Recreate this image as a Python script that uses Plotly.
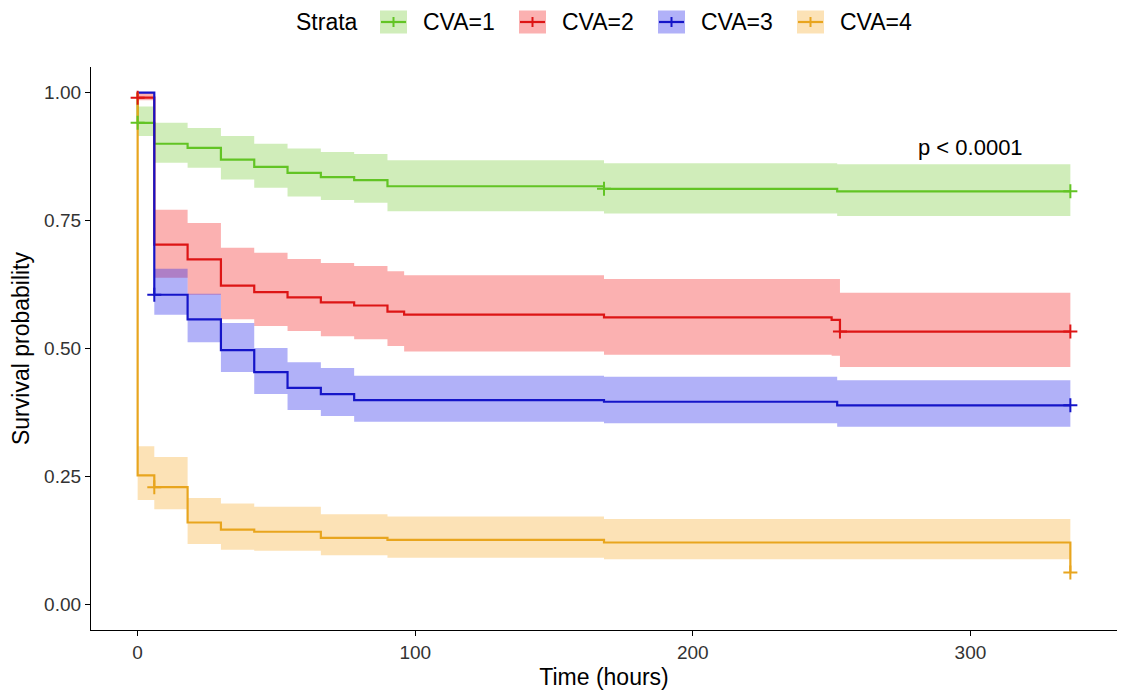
import plotly.graph_objects as go

# ---------------- data ----------------
strata = ["CVA=1", "CVA=2", "CVA=3", "CVA=4"]

time_cva1 = [0, 0, 6, 18, 30, 42, 54, 66, 78, 90, 168, 252, 336]
surv_cva1 = [1.0, 0.941, 0.900, 0.892, 0.869, 0.855, 0.843, 0.835, 0.829, 0.817, 0.812, 0.807, 0.807]
upper_cva1 = [1.0, 0.973, 0.941, 0.931, 0.915, 0.900, 0.891, 0.884, 0.880, 0.868, 0.862, 0.860, 0.860]
lower_cva1 = [1.0, 0.915, 0.863, 0.853, 0.830, 0.814, 0.797, 0.790, 0.785, 0.768, 0.764, 0.759, 0.759]
censor_t_cva1 = [0, 168, 336]
censor_s_cva1 = [0.941, 0.812, 0.807]

time_cva2 = [0, 0, 6, 18, 30, 42, 54, 66, 78, 90, 96, 168, 250, 253, 336]
surv_cva2 = [1.0, 0.990, 0.703, 0.674, 0.623, 0.610, 0.600, 0.590, 0.584, 0.572, 0.566, 0.561, 0.556, 0.533, 0.533]
upper_cva2 = [1.0, 1.0, 0.771, 0.745, 0.697, 0.687, 0.675, 0.667, 0.661, 0.651, 0.643, 0.636, 0.636, 0.609, 0.609]
lower_cva2 = [1.0, 0.985, 0.638, 0.605, 0.557, 0.544, 0.534, 0.524, 0.518, 0.505, 0.494, 0.488, 0.486, 0.464, 0.464]
censor_t_cva2 = [0, 253, 336]
censor_s_cva2 = [0.990, 0.533, 0.533]

time_cva3 = [0, 6, 18, 30, 42, 54, 66, 78, 168, 252, 336]
surv_cva3 = [1.0, 0.605, 0.557, 0.497, 0.454, 0.423, 0.411, 0.399, 0.396, 0.389, 0.389]
upper_cva3 = [1.0, 0.656, 0.607, 0.550, 0.501, 0.473, 0.462, 0.447, 0.445, 0.438, 0.438]
lower_cva3 = [1.0, 0.566, 0.512, 0.454, 0.411, 0.380, 0.368, 0.357, 0.354, 0.347, 0.347]
censor_t_cva3 = [6, 336]
censor_s_cva3 = [0.605, 0.389]

time_cva4 = [0, 0, 6, 18, 30, 42, 66, 90, 168, 336, 336]
surv_cva4 = [1.0, 0.252, 0.229, 0.160, 0.146, 0.142, 0.130, 0.126, 0.121, 0.121, 0.0625]
upper_cva4 = [1.0, 0.309, 0.288, 0.208, 0.197, 0.191, 0.176, 0.172, 0.167, 0.167, 0.167]
lower_cva4 = [1.0, 0.204, 0.186, 0.118, 0.107, 0.105, 0.096, 0.091, 0.088, 0.088, 0.088]
censor_t_cva4 = [6, 336]
censor_s_cva4 = [0.229, 0.0625]

x_ticks = [0, 100, 200, 300]
y_ticks = [0, 0.25, 0.5, 0.75, 1.0]
y_tick_labels = ["0.00", "0.25", "0.50", "0.75", "1.00"]
legend_title = "Strata"
p_text = "p < 0.0001"

# ---------------- style ----------------
line_colors = ["#62C424", "#DD1515", "#1515C8", "#E8A51E"]
ribbon_colors = ["rgba(110,200,40,0.32)", "rgba(245,40,40,0.36)",
                 "rgba(40,40,235,0.36)", "rgba(245,170,40,0.34)"]
FONT = "Liberation Sans, Arial, sans-serif"

W, H = 1123, 693
ML, MR, MT, MB = 91, 6, 67, 63
PW, PH = W - ML - MR, H - MT - MB


def px_x(p):
    return (p - ML) / PW


def px_y(p):
    return 1 + (MT - p) / PH


groups = [
    (time_cva1, surv_cva1, upper_cva1, lower_cva1, censor_t_cva1, censor_s_cva1),
    (time_cva2, surv_cva2, upper_cva2, lower_cva2, censor_t_cva2, censor_s_cva2),
    (time_cva3, surv_cva3, upper_cva3, lower_cva3, censor_t_cva3, censor_s_cva3),
    (time_cva4, surv_cva4, upper_cva4, lower_cva4, censor_t_cva4, censor_s_cva4),
]

fig = go.Figure()

# confidence ribbons
for i, (t, s, up, lo, ct, cs) in enumerate(groups):
    fig.add_trace(go.Scatter(x=t, y=lo, mode="lines", line=dict(width=0, shape="hv"),
                             showlegend=False, hoverinfo="skip"))
    fig.add_trace(go.Scatter(x=t, y=up, mode="lines", line=dict(width=0, shape="hv"),
                             fill="tonexty", fillcolor=ribbon_colors[i],
                             showlegend=False, hoverinfo="skip"))

# survival step lines
for i, (t, s, up, lo, ct, cs) in enumerate(groups):
    fig.add_trace(go.Scatter(x=t, y=s, mode="lines",
                             line=dict(color=line_colors[i], width=2.2, shape="hv"),
                             showlegend=False, name=strata[i]))

# censor marks
for i, (t, s, up, lo, ct, cs) in enumerate(groups):
    fig.add_trace(go.Scatter(x=ct, y=cs, mode="markers",
                             marker=dict(symbol="cross-thin", size=10,
                                         line=dict(color=line_colors[i], width=2)),
                             showlegend=False, name=strata[i]))

# ---- legend drawn at the top (box + cross key, like ggplot) ----
leg_y = 22
box_left = [380, 519, 658, 797]
box_w, box_h = 27, 23
shapes = []
annotations = []
annotations.append(dict(x=px_x(294), y=px_y(leg_y), xref="paper", yref="paper",
                        text=legend_title, showarrow=False, xanchor="left", yanchor="middle",
                        font=dict(family=FONT, size=23, color="black")))
for i, name in enumerate(strata):
    x0 = box_left[i]
    shapes.append(dict(type="rect", xref="paper", yref="paper",
                       x0=px_x(x0), x1=px_x(x0 + box_w),
                       y0=px_y(leg_y + box_h / 2), y1=px_y(leg_y - box_h / 2),
                       fillcolor=ribbon_colors[i], line=dict(width=0), layer="above"))
    shapes.append(dict(type="line", xref="paper", yref="paper",
                       x0=px_x(x0 + 1), x1=px_x(x0 + box_w - 1),
                       y0=px_y(leg_y), y1=px_y(leg_y),
                       line=dict(color=line_colors[i], width=2.2), layer="above"))
    shapes.append(dict(type="line", xref="paper", yref="paper",
                       x0=px_x(x0 + box_w / 2), x1=px_x(x0 + box_w / 2),
                       y0=px_y(leg_y - 5), y1=px_y(leg_y + 5),
                       line=dict(color=line_colors[i], width=2), layer="above"))
    annotations.append(dict(x=px_x(x0 + box_w + 14), y=px_y(leg_y), xref="paper", yref="paper",
                            text=name, showarrow=False, xanchor="left", yanchor="middle",
                            font=dict(family=FONT, size=23, color="black")))

annotations.append(dict(x=300, y=0.893, xref="x", yref="y", text=p_text, showarrow=False,
                        font=dict(family=FONT, size=22, color="black"),
                        xanchor="center", yanchor="middle"))

fig.update_layout(
    width=W, height=H,
    margin=dict(l=ML, r=MR, t=MT, b=MB),
    paper_bgcolor="white", plot_bgcolor="white",
    font=dict(family=FONT, color="black"),
    showlegend=False,
    shapes=shapes,
    annotations=annotations,
    xaxis=dict(range=[-16.8, 352.8], tickvals=x_ticks, showgrid=False, zeroline=False,
               showline=True, linecolor="black", linewidth=1.3, mirror=False,
               ticks="outside", ticklen=5, tickwidth=1.3, tickcolor="black",
               tickfont=dict(size=19, color="#333333", family=FONT),
               title=dict(text="Time (hours)", font=dict(size=23, family=FONT), standoff=6)),
    yaxis=dict(range=[-0.05, 1.05], tickvals=y_ticks, ticktext=y_tick_labels,
               showgrid=False, zeroline=False,
               showline=True, linecolor="black", linewidth=1.3,
               ticks="outside", ticklen=5, tickwidth=1.3, tickcolor="black",
               tickfont=dict(size=19, color="#333333", family=FONT),
               title=dict(text="Survival probability", font=dict(size=23, family=FONT), standoff=8)),
)

fig.write_html("out.html")
